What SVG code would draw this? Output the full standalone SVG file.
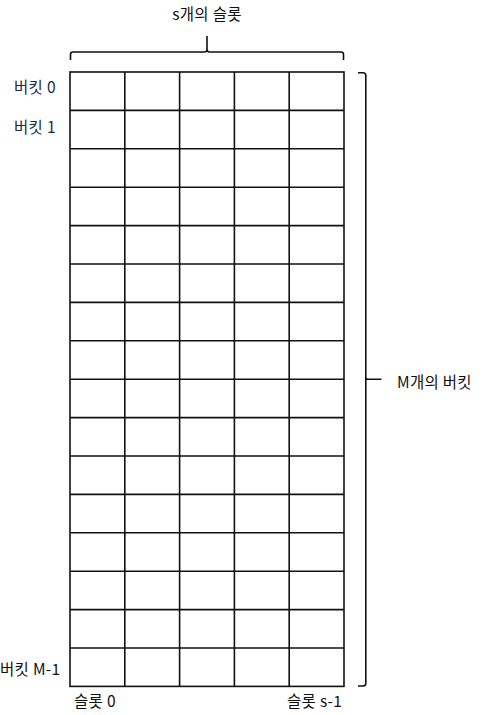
<svg xmlns="http://www.w3.org/2000/svg" width="487" height="715" viewBox="0 0 487 715">
<style>
.t{font-family:"Noto Sans CJK KR","Noto Sans",sans-serif;font-size:15.5px;letter-spacing:0.3px;fill:#111}
.b{fill:#1b2a45}
.g{stroke:#111;stroke-width:1.6;fill:none}
.br{stroke:#111;stroke-width:1.6;fill:none}
</style>
<rect width="487" height="715" fill="#fff"/>
<g id="grid">
<rect class="g" x="70" y="72" width="274" height="614.4"/>
<path class="g" d="M124.8 72V686.4M179.6 72V686.4M234.4 72V686.4M289.2 72V686.4"/>
<path class="g" d="M70 110.4H344M70 148.8H344M70 187.2H344M70 225.6H344M70 264H344M70 302.4H344M70 340.8H344M70 379.2H344M70 417.6H344M70 456H344M70 494.4H344M70 532.8H344M70 571.2H344M70 609.6H344M70 648H344"/>
</g>
<g id="connectors">
<path class="br" d="M70.5 60V54.5Q70.5 52 73 52H204.5Q207 52 207 49.5V36M207 49.5Q207 52 209.5 52H341Q343.5 52 343.5 54.5V60"/>
<path class="br" d="M358 72.8H363Q365.8 72.8 365.8 75.5V377Q365.8 379.3 368 379.3H381.5M365.8 377V683.5Q365.8 686 363 686H358"/>
</g>
<g id="label-slots"><text class="t" x="207" y="20" text-anchor="middle">s개의 슬롯</text></g>
<g id="label-buckets"><text class="t" x="397" y="388">M개의 버킷</text></g>
<g id="label-b0"><text class="t b" x="14" y="93">버킷 0</text></g>
<g id="label-b1"><text class="t b" x="14" y="133">버킷 1</text></g>
<g id="label-bm"><text class="t" x="0" y="675">버킷 M-1</text></g>
<g id="label-s0"><text class="t" x="74" y="707">슬롯 0</text></g>
<g id="label-ss"><text class="t" x="287" y="707">슬롯 s-1</text></g>
</svg>
